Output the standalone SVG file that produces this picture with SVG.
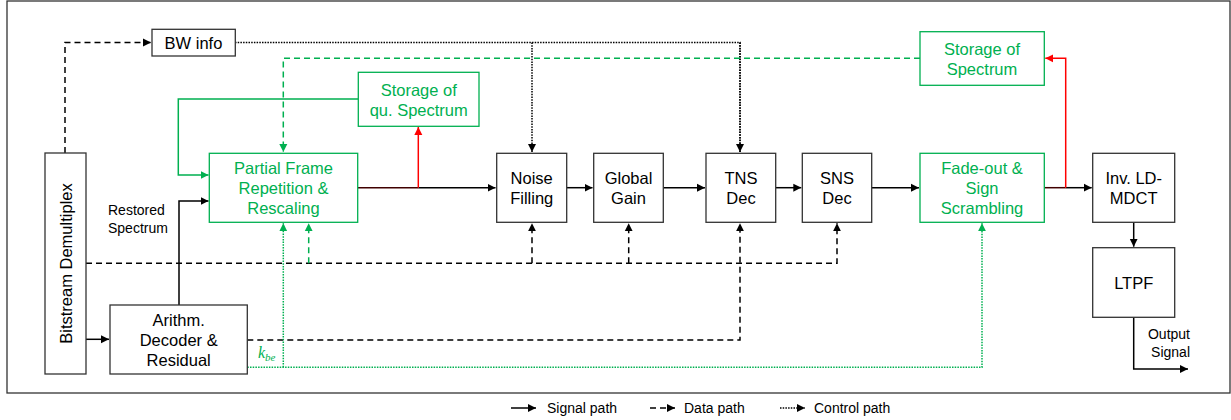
<svg xmlns="http://www.w3.org/2000/svg" width="1231" height="420" viewBox="0 0 1231 420">
<defs>
<style>
.box{fill:#fff;stroke:#333;stroke-width:1.3}
.gbox{fill:#fff;stroke:#00B050;stroke-width:1.3}
.t{font-family:"Liberation Sans",Arial,sans-serif;font-size:16.5px;fill:#000;text-anchor:middle;dominant-baseline:central}
.gt{font-family:"Liberation Sans",Arial,sans-serif;font-size:16.5px;fill:#00B050;text-anchor:middle;dominant-baseline:central}
.s{font-family:"Liberation Sans",Arial,sans-serif;font-size:14px;fill:#000;dominant-baseline:central}
.sig{fill:none;stroke:#000;stroke-width:1.5}
.dat{fill:none;stroke:#000;stroke-width:1.5;stroke-dasharray:6,4}
.ctl{fill:none;stroke:#000;stroke-width:1.5;stroke-dasharray:1.5,1.2}
.red{fill:none;stroke:#FF0000;stroke-width:1.5}
.dred{fill:none;stroke:#400000;stroke-width:1.5}
.gsig{fill:none;stroke:#00B050;stroke-width:1.5}
.gdat{fill:none;stroke:#00B050;stroke-width:1.5;stroke-dasharray:6,4}
.gctl{fill:none;stroke:#00B050;stroke-width:1.5;stroke-dasharray:1.5,1.2}
</style>
<marker id="ab" viewBox="0 0 10 10" refX="10" refY="5" markerWidth="8" markerHeight="9" markerUnits="userSpaceOnUse" orient="auto"><path d="M0,0 L10,5 L0,10 z" fill="#000"/></marker>
<marker id="ar" viewBox="0 0 10 10" refX="10" refY="5" markerWidth="8" markerHeight="9" markerUnits="userSpaceOnUse" orient="auto"><path d="M0,0 L10,5 L0,10 z" fill="#FF0000"/></marker>
<marker id="ag" viewBox="0 0 10 10" refX="10" refY="5" markerWidth="8" markerHeight="9" markerUnits="userSpaceOnUse" orient="auto"><path d="M0,0 L10,5 L0,10 z" fill="#00B050"/></marker>
</defs>
<rect x="0" y="0" width="1231" height="420" fill="#fff"/>
<rect x="7" y="1" width="1223" height="392" fill="none" stroke="#333" stroke-width="1.3"/>

<g id="connectors">
<path class="dat" d="M65,153 V42.5 H151" marker-end="url(#ab)"/>
<path class="ctl" d="M235,42.5 H740 V152"/>
<path class="ctl" d="M740,42.5 V152" marker-end="url(#ab)"/>
<path class="ctl" d="M532,42.5 V152" marker-end="url(#ab)"/>
<path class="gdat" d="M920,58.3 H283.3 V152" marker-end="url(#ag)"/>
<path class="gsig" d="M358.3,99 H178.3 V175 H208.5" marker-end="url(#ag)"/>
<path class="sig" d="M179,305 V201 H208.5" marker-end="url(#ab)"/>
<path class="dred" d="M358,187.7 H418.3"/>
<path class="sig" d="M418.3,187.7 H495.5" marker-end="url(#ab)"/>
<path class="red" d="M418.3,187.7 V127" marker-end="url(#ar)"/>
<path class="sig" d="M566.7,187.7 H592.5" marker-end="url(#ab)"/>
<path class="sig" d="M663.3,187.7 H705" marker-end="url(#ab)"/>
<path class="sig" d="M775.7,187.7 H801.3" marker-end="url(#ab)"/>
<path class="sig" d="M871.7,187.7 H919" marker-end="url(#ab)"/>
<path class="dred" d="M1044.3,187.7 H1065.7"/>
<path class="sig" d="M1065.7,187.7 H1091.7" marker-end="url(#ab)"/>
<path class="red" d="M1065.7,187.7 V58.3 H1045.3" marker-end="url(#ar)"/>
<path class="sig" d="M1133.7,222.3 V246.7" marker-end="url(#ab)"/>
<path class="sig" d="M1133.7,317.3 V369 H1188" marker-end="url(#ab)"/>
<path class="dat" d="M86,263.3 H837 V223.3" marker-end="url(#ab)"/>
<path class="dat" d="M532,263.3 V223.3" marker-end="url(#ab)"/>
<path class="dat" d="M628.7,263.3 V223.3" marker-end="url(#ab)"/>
<path class="gdat" d="M308.7,263.3 V223.3" marker-end="url(#ag)"/>
<path class="sig" d="M86,339.3 H109" marker-end="url(#ab)"/>
<path class="dat" d="M247.3,340 H740 V223.3" marker-end="url(#ab)"/>
<path class="gctl" d="M247.3,367.3 H982 V223.3" marker-end="url(#ag)"/>
<path class="gctl" d="M283.3,367.3 V223.3" marker-end="url(#ag)"/>
</g>

<g id="demux">
<rect class="box" x="45" y="153" width="41" height="221"/>
<text class="t" transform="translate(65.5,263.5) rotate(-90)" x="0" y="0">Bitstream Demultiplex</text>
</g>
<g id="bwinfo">
<rect class="box" x="152" y="29.3" width="83.3" height="26.7"/>
<text class="t" x="193.5" y="42.5">BW info</text>
</g>
<g id="storage-qu">
<rect class="gbox" x="358.3" y="72.3" width="120.7" height="54"/>
<text class="gt" x="418.7" y="90">Storage of</text>
<text class="gt" x="418.7" y="110">qu. Spectrum</text>
</g>
<g id="partial-frame">
<rect class="gbox" x="209.3" y="153.3" width="148.4" height="69"/>
<text class="gt" x="283.5" y="168">Partial Frame</text>
<text class="gt" x="283.5" y="188">Repetition &amp;</text>
<text class="gt" x="283.5" y="208">Rescaling</text>
</g>
<g id="restored-label">
<text class="s" x="108" y="210">Restored</text>
<text class="s" x="108" y="228">Spectrum</text>
</g>
<g id="noise-filling">
<rect class="box" x="496.7" y="153.3" width="70" height="69"/>
<text class="t" x="531.7" y="178">Noise</text>
<text class="t" x="531.7" y="198">Filling</text>
</g>
<g id="global-gain">
<rect class="box" x="593.7" y="153.3" width="69.6" height="69"/>
<text class="t" x="628.5" y="178">Global</text>
<text class="t" x="628.5" y="198">Gain</text>
</g>
<g id="tns-dec">
<rect class="box" x="706" y="153.3" width="69.7" height="69"/>
<text class="t" x="741" y="178">TNS</text>
<text class="t" x="741" y="198">Dec</text>
</g>
<g id="sns-dec">
<rect class="box" x="802.3" y="153.3" width="69.4" height="69"/>
<text class="t" x="837" y="178">SNS</text>
<text class="t" x="837" y="198">Dec</text>
</g>
<g id="fade-out">
<rect class="gbox" x="920" y="153.3" width="124.3" height="69"/>
<text class="gt" x="982" y="168">Fade-out &amp;</text>
<text class="gt" x="982" y="188">Sign</text>
<text class="gt" x="982" y="208">Scrambling</text>
</g>
<g id="storage-spectrum">
<rect class="gbox" x="920" y="31.7" width="124.3" height="53.6"/>
<text class="gt" x="982" y="49.3">Storage of</text>
<text class="gt" x="982" y="69.3">Spectrum</text>
</g>
<g id="inv-mdct">
<rect class="box" x="1092.7" y="153.3" width="82" height="69"/>
<text class="t" x="1133.7" y="178">Inv. LD-</text>
<text class="t" x="1133.7" y="198">MDCT</text>
</g>
<g id="ltpf">
<rect class="box" x="1092.7" y="247.7" width="82" height="69.6"/>
<text class="t" x="1133.7" y="282.7">LTPF</text>
</g>
<g id="output-label">
<text class="s" x="1190" y="334" text-anchor="end">Output</text>
<text class="s" x="1190" y="352" text-anchor="end">Signal</text>
</g>
<g id="arithm">
<rect class="box" x="110" y="305" width="137.3" height="69"/>
<text class="t" x="178.7" y="320">Arithm.</text>
<text class="t" x="178.7" y="340">Decoder &amp;</text>
<text class="t" x="178.7" y="360">Residual</text>
</g>
<g id="kbe-label">
<text x="258" y="358" font-family="'Liberation Serif','DejaVu Serif',serif" font-style="italic" font-size="16" fill="#00B050">k<tspan font-size="11" dy="3">be</tspan></text>
</g>

<g id="legend">
<path class="sig" d="M511,408 H536" marker-end="url(#ab)"/>
<text class="s" x="547" y="408">Signal path</text>
<path class="dat" d="M650,408 H675" marker-end="url(#ab)"/>
<text class="s" x="684" y="408">Data path</text>
<path class="ctl" d="M780,408 H805" marker-end="url(#ab)"/>
<text class="s" x="814" y="408">Control path</text>
</g>
</svg>
